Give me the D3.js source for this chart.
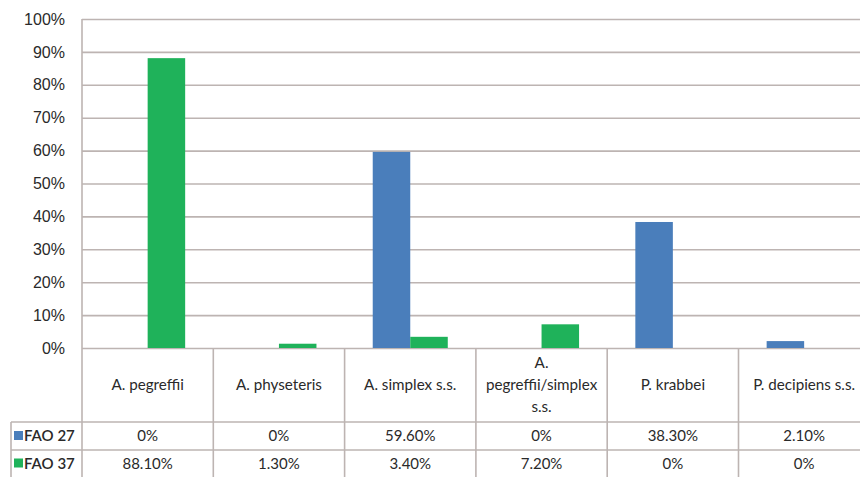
<!DOCTYPE html>
<html>
<head>
<meta charset="utf-8">
<script src="https://cdn.jsdelivr.net/npm/d3@7"></script>
<style>
  html, body { margin: 0; padding: 0; background: #fff; }
  svg { display: block; font-family: Lato, "Open Sans", sans-serif; }
</style>
</head>
<body>
<svg id="chart" width="860" height="477"></svg>
<script>
// Species identified, with the share found in each FAO fishing area
const categories = ["A. pegreffii", "A. physeteris", "A. simplex s.s.", "A. pegreffii/simplex s.s.", "P. krabbei", "P. decipiens s.s."];
const headerLines = [["A. pegreffii"], ["A. physeteris"], ["A. simplex s.s."], ["A.", "pegreffii/simplex", "s.s."], ["P. krabbei"], ["P. decipiens s.s."]];
const seriesNames = ["FAO 27", "FAO 37"];
const fao27 = [0, 0, 59.6, 0, 38.3, 2.1];
const fao37 = [88.1, 1.3, 3.4, 7.2, 0, 0];
const tableText27 = ["0%", "0%", "59.60%", "0%", "38.30%", "2.10%"];
const tableText37 = ["88.10%", "1.30%", "3.40%", "7.20%", "0%", "0%"];
const yTicks = [0, 10, 20, 30, 40, 50, 60, 70, 80, 90, 100];
const colors = ["#4a7ebb", "#1fb25a"];

const seriesValues = [fao27, fao37];
const seriesText = [tableText27, tableText37];

const svg = d3.select("#chart");
const gridColor = "#bdb4b2";
const textColor = "#2a2a2a";

const plotLeft = 82, plotTop = 19, plotBottom = 348;
const colW = 131.3;
const headerBottom = 422, row1Bottom = 450, tableBottom = 477;
const legendLeft = 11;

const x = d3.scaleBand().domain(categories).range([plotLeft, plotLeft + colW * categories.length]).paddingInner(0).paddingOuter(0);
const xs = d3.scaleBand().domain(seriesNames).range([0, x.bandwidth()]).paddingInner(0).paddingOuter(0.75);
const y = d3.scaleLinear().domain([0, 100]).range([plotBottom, plotTop]);

// horizontal gridlines with percentage labels
const yAxis = d3.axisLeft(y).tickValues(yTicks).tickFormat(d => d + "%")
  .tickSize(-(x.range()[1] - plotLeft)).tickPadding(17);
const ga = svg.append("g").attr("transform", `translate(${plotLeft},0)`).call(yAxis);
ga.select(".domain").remove();
ga.selectAll(".tick line").attr("stroke", gridColor).attr("stroke-width", 1.6);
ga.selectAll(".tick text").attr("fill", textColor).attr("font-size", 16);

// bars
seriesNames.forEach((s, si) => {
  svg.append("g").selectAll("rect")
    .data(seriesValues[si].map((v, i) => ({ c: categories[i], v })))
    .join("rect")
    .attr("x", d => x(d.c) + xs(s))
    .attr("width", xs.bandwidth())
    .attr("y", d => y(d.v))
    .attr("height", d => y(0) - y(d.v))
    .attr("fill", colors[si]);
});

// data table grid
const tg = svg.append("g").attr("stroke", gridColor).attr("stroke-width", 1.6);
tg.append("line").attr("x1", plotLeft).attr("x2", plotLeft).attr("y1", plotTop).attr("y2", tableBottom);
categories.forEach(c => {
  tg.append("line").attr("x1", x(c) + colW).attr("x2", x(c) + colW).attr("y1", plotBottom).attr("y2", tableBottom);
});
tg.append("line").attr("x1", legendLeft).attr("x2", x.range()[1]).attr("y1", headerBottom).attr("y2", headerBottom);
tg.append("line").attr("x1", legendLeft).attr("x2", x.range()[1]).attr("y1", row1Bottom).attr("y2", row1Bottom);
tg.append("line").attr("x1", legendLeft).attr("x2", legendLeft).attr("y1", headerBottom).attr("y2", tableBottom);

// category headers
const headerMid = (plotBottom + headerBottom) / 2;
const lineGap = 22;
categories.forEach((c, i) => {
  const lines = headerLines[i];
  const t = svg.append("text")
    .attr("x", x(c) + colW / 2)
    .attr("text-anchor", "middle")
    .attr("font-size", 15.2)
    .attr("fill", textColor);
  lines.forEach((ln, li) => {
    t.append("tspan")
      .attr("x", x(c) + colW / 2)
      .attr("y", headerMid + (li - (lines.length - 1) / 2) * lineGap)
      .attr("dy", "0.35em")
      .text(ln);
  });
});

// value rows with legend keys
const rowMids = [(headerBottom + row1Bottom) / 2, (row1Bottom + tableBottom) / 2];
seriesNames.forEach((s, si) => {
  const ym = rowMids[si];
  svg.append("rect").attr("x", 14).attr("y", ym - 5).attr("width", 9).attr("height", 9).attr("fill", colors[si]);
  svg.append("text").attr("x", 24).attr("y", ym).attr("dy", "0.35em")
    .attr("font-size", 15).attr("font-weight", 600).attr("fill", textColor).text(s);
  categories.forEach((c, i) => {
    svg.append("text")
      .attr("x", x(c) + colW / 2).attr("y", ym).attr("dy", "0.35em")
      .attr("text-anchor", "middle").attr("font-size", 15).attr("fill", textColor)
      .text(seriesText[si][i]);
  });
});
</script>
</body>
</html>
